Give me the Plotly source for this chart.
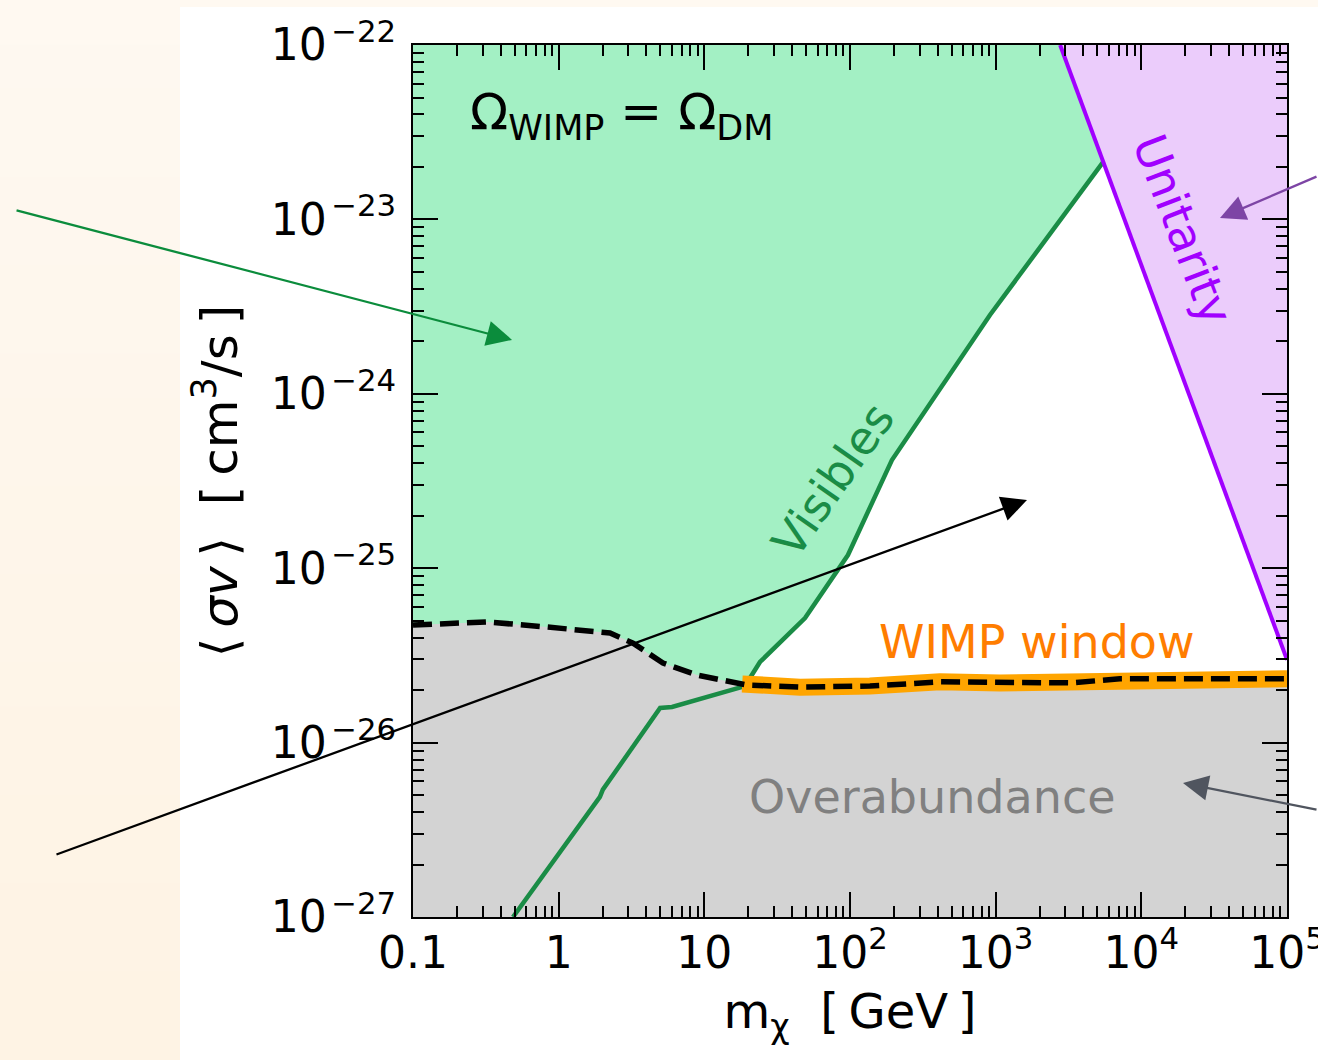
import numpy as np
import plotly.graph_objects as go

# ---------------- data ----------------
vis_mass = [0.486, 1.92, 2.01, 4.97, 6.0, 19.0, 24.1, 49.1, 96.8, 194.0, 914.0, 5460.0]
vis_sigma = [1.0e-27, 4.88e-27, 5.37e-27, 1.58e-26, 1.60e-26, 2.11e-26, 2.90e-26,
             5.18e-26, 1.19e-25, 4.17e-25, 2.83e-24, 2.13e-23]

relic_mass = [0.1, 0.322, 0.832, 2.25, 3.24, 4.04, 5.20, 8.91, 15.0, 19.6, 45.4,
              137.0, 415.0, 1071.0, 3240.0, 7130.0, 25300.0, 1.0e5]
relic_sigma = [4.72e-26, 4.92e-26, 4.60e-26, 4.25e-26, 3.72e-26, 3.27e-26, 2.86e-26,
               2.44e-26, 2.23e-26, 2.14e-26, 2.08e-26, 2.11e-26, 2.23e-26, 2.20e-26,
               2.20e-26, 2.32e-26, 2.32e-26, 2.32e-26]

window_mass = [18.2, 45.4, 137.0, 415.0, 1071.0, 3240.0, 7130.0, 25300.0, 1.0e5]
window_sigma = [2.17e-26, 2.08e-26, 2.11e-26, 2.23e-26, 2.20e-26, 2.20e-26, 2.32e-26,
                2.32e-26, 2.32e-26]

unit_mass = [2770.0, 1.0e5]
unit_sigma = [1.0e-22, 2.98e-26]

x_min, x_max = 0.1, 1.0e5
y_min, y_max = 1.0e-27, 1.0e-22

x_tickvals = [0.1, 1, 10, 100, 1e3, 1e4, 1e5]
x_ticktext = ["0.1", "1", "10", "10<sup>2</sup>", "10<sup>3</sup>", "10<sup>4</sup>", "10<sup>5</sup>"]
y_tickvals = [1e-27, 1e-26, 1e-25, 1e-24, 1e-23, 1e-22]
y_ticktext = ["10\u200a<sup>\u221227</sup>", "10\u200a<sup>\u221226</sup>", "10\u200a<sup>\u221225</sup>",
              "10\u200a<sup>\u221224</sup>", "10\u200a<sup>\u221223</sup>", "10\u200a<sup>\u221222</sup>"]

# ---------------- styles ----------------
GREEN_FILL = "#a3f0c4"
GREEN_LINE = "#1a8c46"
GREY_FILL = "#d3d3d3"
PURPLE_FILL = "#ebccfb"
PURPLE_LINE = "#a100ff"
ORANGE_BAND = "#ffa500"
ORANGE_TEXT = "#ff7d00"
FONT = "DejaVu Sans"

W, H = 1318, 1060
ML, MR, MT, MB = 413, 31, 45, 143
PW, PH = W - ML - MR, H - MT - MB
EPS = 1e-6


def px2paper_x(px):
    return (px - ML) / PW


def px2paper_y(py):
    return (H - MB - py) / PH


fig = go.Figure()

# green "Visibles" excluded region (above/left of the visibles curve, below unitarity)
g_x = [x_min, unit_mass[0]] + vis_mass[::-1] + [x_min]
g_y = [y_max, y_max] + vis_sigma[::-1] + [y_min]
fig.add_trace(go.Scatter(x=g_x, y=g_y, fill="toself", fillcolor=GREEN_FILL,
                         mode="lines", line=dict(width=0), hoverinfo="skip", showlegend=False))

# purple unitarity region
p_x = [unit_mass[0], x_max, unit_mass[1], unit_mass[0]]
p_y = [y_max, y_max, unit_sigma[1], y_max]
fig.add_trace(go.Scatter(x=p_x, y=p_y, fill="toself", fillcolor=PURPLE_FILL,
                         mode="lines", line=dict(width=0), hoverinfo="skip", showlegend=False))

# grey overabundance region
o_x = relic_mass + [x_max, x_min]
o_y = relic_sigma + [y_min, y_min]
fig.add_trace(go.Scatter(x=o_x, y=o_y, fill="toself", fillcolor=GREY_FILL,
                         mode="lines", line=dict(width=0), hoverinfo="skip", showlegend=False))

# lines
fig.add_trace(go.Scatter(x=vis_mass, y=vis_sigma, mode="lines",
                         line=dict(color=GREEN_LINE, width=4.5), showlegend=False))
fig.add_trace(go.Scatter(x=unit_mass, y=unit_sigma, mode="lines",
                         line=dict(color=PURPLE_LINE, width=4), showlegend=False))
fig.add_trace(go.Scatter(x=window_mass, y=window_sigma, mode="lines",
                         line=dict(color=ORANGE_BAND, width=17), showlegend=False))
fig.add_trace(go.Scatter(x=relic_mass, y=relic_sigma, mode="lines",
                         line=dict(color="black", width=5.5, dash="19px,8px"), showlegend=False))

# ---------------- slide background (peach strip) ----------------
shapes = []
n_bands = 24
top_c = np.array([255, 249, 241])
bot_c = np.array([254, 243, 228])
for i in range(n_bands):
    t = i / (n_bands - 1)
    c = (1 - t) * top_c + t * bot_c
    y0 = H * i / n_bands
    y1 = H * (i + 1) / n_bands + 1
    shapes.append(dict(type="rect", xref="paper", yref="paper", layer="below",
                       x0=px2paper_x(0), x1=px2paper_x(180),
                       y0=px2paper_y(y1), y1=px2paper_y(y0),
                       fillcolor="rgb(%d,%d,%d)" % tuple(c.astype(int)), line=dict(width=0)))
shapes.append(dict(type="rect", xref="paper", yref="paper", layer="below",
                   x0=px2paper_x(0), x1=px2paper_x(W), y0=px2paper_y(7), y1=px2paper_y(0),
                   fillcolor="rgb(255,249,241)", line=dict(width=0)))

# ---------------- text labels ----------------
annotations = [
    dict(x=0.435, y=-22.405, xref="x", yref="y", showarrow=False,
         text="\u03a9<sub>WIMP</sub> = \u03a9<sub>DM</sub>",
         font=dict(family=FONT, size=50, color="black")),
    dict(x=1.883, y=-24.494, xref="x", yref="y", showarrow=False, text="Visibles",
         textangle=-55, font=dict(family=FONT, size=46, color=GREEN_LINE)),
    dict(x=4.286, y=-23.061, xref="x", yref="y", showarrow=False, text="Unitarity",
         textangle=69, font=dict(family=FONT, size=46, color=PURPLE_LINE)),
    dict(x=3.284, y=-25.423, xref="x", yref="y", showarrow=False, text="WIMP window",
         font=dict(family=FONT, size=46, color=ORANGE_TEXT)),
    dict(x=2.563, y=-26.312, xref="x", yref="y", showarrow=False, text="Overabundance",
         font=dict(family=FONT, size=46, color="#808080")),
]

# slide arrows (heads at data positions, tails in pixel offsets)
arrows = [
    (-0.320, -23.691, -497, -130, "#0b8c3c"),
    (3.215, -24.609, -972, 355, "black"),
    (4.540, -22.992, 110, -42, "#7d45a5"),
    (-1 + 770 / 145.67, -22 - 738 / 174.4, 150, 27, "#50555f"),
]
for hx, hy, ax, ay, col in arrows:
    annotations.append(dict(x=hx, y=hy, xref="x", yref="y", text="", showarrow=True,
                            ax=ax, ay=ay, axref="pixel", ayref="pixel",
                            arrowhead=2, arrowsize=2.2, arrowwidth=2.3, arrowcolor=col,
                            standoff=0))

# minor tick positions
x_minor = [m * 10.0 ** e for e in range(-1, 5) for m in range(2, 10)]
y_minor = [m * 10.0 ** e for e in range(-27, -22) for m in range(2, 10)]

axis_common = dict(type="log", showgrid=False, zeroline=False, showline=True,
                   linecolor="black", linewidth=2, mirror="allticks",
                   ticks="inside", ticklen=25, tickwidth=2, tickcolor="black",
                   tickfont=dict(family=FONT, size=44, color="black"))

fig.update_layout(
    width=W, height=H,
    margin=dict(l=ML, r=MR, t=MT, b=MB, autoexpand=False),
    paper_bgcolor="white", plot_bgcolor="white",
    font=dict(family=FONT, color="black"),
    shapes=shapes, annotations=annotations, showlegend=False,
    xaxis=dict(axis_common, range=[np.log10(x_min) - EPS, np.log10(x_max) + EPS],
               tickmode="array", tickvals=x_tickvals, ticktext=x_ticktext,
               ticklabelstandoff=-4, ticklabeloverflow="allow",
               minor=dict(tickmode="array", tickvals=x_minor, ticks="inside",
                          ticklen=11, tickwidth=1.5, tickcolor="black", showgrid=False),
               title=dict(text="m<sub>\u03c7</sub>  [\u2009GeV\u2009]",
                          font=dict(family=FONT, size=48), standoff=18)),
    yaxis=dict(axis_common, range=[np.log10(y_min) - EPS, np.log10(y_max) + EPS],
               tickmode="array", tickvals=y_tickvals, ticktext=y_ticktext,
               ticklabelstandoff=6, ticklabeloverflow="allow",
               minor=dict(tickmode="array", tickvals=y_minor, ticks="inside",
                          ticklen=11, tickwidth=1.5, tickcolor="black", showgrid=False),
               title=dict(text="\u27e8\u2009<i>\u03c3v</i>\u2009\u27e9  [\u2009cm<sup>3</sup>/s\u2009]",
                          font=dict(family=FONT, size=50), standoff=17)),
)

fig.write_html("out.html", config={"displayModeBar": False},
               post_script="document.body.style.margin='0px';document.body.style.overflow='hidden';")
